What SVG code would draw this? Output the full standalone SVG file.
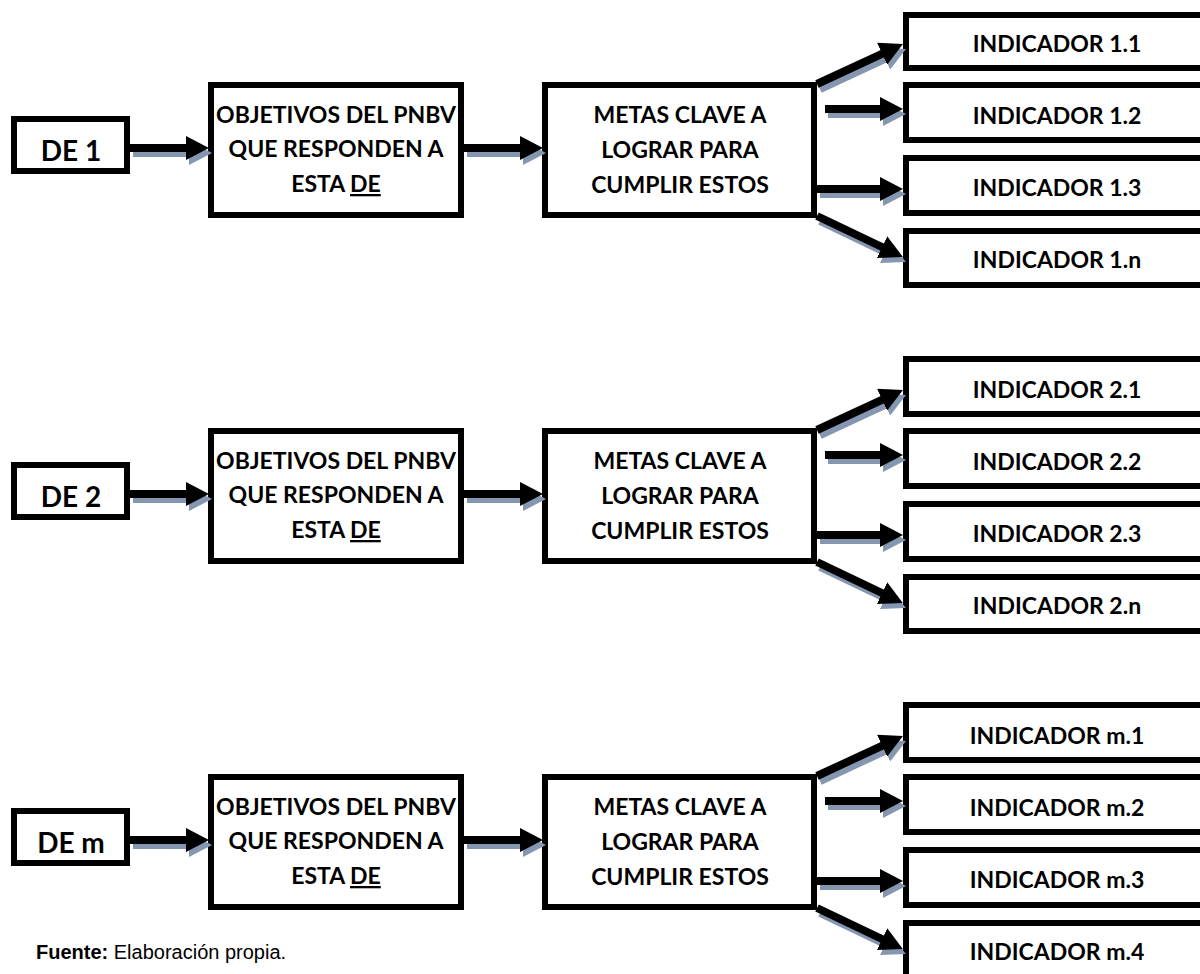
<svg xmlns="http://www.w3.org/2000/svg" xmlns:xlink="http://www.w3.org/1999/xlink" width="1200" height="974" viewBox="0 0 1200 974">
<style>
.box{fill:#fff;stroke:#000;stroke-width:6}
.t{font-family:Lato,"Liberation Sans",sans-serif;font-weight:700;font-size:23px;text-anchor:middle;fill:#000}
.de{font-size:28px}
.sh{stroke:#8496B0;stroke-width:8;fill:none;marker-end:url(#hg)}
.ar{stroke:#000;stroke-width:8;fill:none;marker-end:url(#hb)}
.src{font-family:"Liberation Sans",Arial,sans-serif;font-size:20px;fill:#000}
</style>
<defs>
<marker id="hb" markerUnits="userSpaceOnUse" markerWidth="23" markerHeight="24" viewBox="0 0 23 24" refX="1" refY="12" orient="auto"><path d="M0,0 L23,12 L0,24 z" fill="#000"/></marker>
<marker id="hg" markerUnits="userSpaceOnUse" markerWidth="23" markerHeight="24" viewBox="0 0 23 24" refX="1" refY="12" orient="auto"><path d="M0,0 L23,12 L0,24 z" fill="#8496B0"/></marker>
<g id="setShadow" class="sh">
<line x1="130" y1="148" x2="187" y2="148"/>
<line x1="464" y1="148" x2="521" y2="148"/>
<line x1="817" y1="84" x2="883" y2="53.3"/>
<line x1="825" y1="109" x2="881" y2="109"/>
<line x1="817" y1="189" x2="881" y2="189"/>
<line x1="817" y1="216" x2="883" y2="247.5"/>
</g>
<g id="setBlack" class="ar">
<line x1="130" y1="148" x2="187" y2="148"/>
<line x1="464" y1="148" x2="521" y2="148"/>
<line x1="817" y1="84" x2="883" y2="53.3"/>
<line x1="825" y1="109" x2="881" y2="109"/>
<line x1="817" y1="189" x2="881" y2="189"/>
<line x1="817" y1="216" x2="883" y2="247.5"/>
</g>
</defs>
<rect width="1200" height="974" fill="#fff"/>

<!-- Group 1 -->
<g id="de1"><rect class="box" x="14" y="119" width="113" height="52"/><text class="t de" x="71" y="161">DE 1</text></g>
<g id="obj1"><rect class="box" x="211" y="85" width="250" height="130"/><text class="t" x="336" y="123">OBJETIVOS DEL PNBV</text><text class="t" x="336" y="157">QUE RESPONDEN A</text><text class="t" x="336" y="192">ESTA <tspan text-decoration="underline">DE</tspan></text></g>
<g id="meta1"><rect class="box" x="545" y="85" width="269" height="130"/><text class="t" x="680" y="123">METAS CLAVE A</text><text class="t" x="680" y="158">LOGRAR PARA</text><text class="t" x="680" y="193">CUMPLIR ESTOS</text></g>
<g id="ind1-1"><rect class="box" x="906" y="15" width="310" height="53"/><text class="t" x="1057" y="52">INDICADOR 1.1</text></g>
<g id="ind1-2"><rect class="box" x="906" y="85" width="310" height="55"/><text class="t" x="1057" y="124">INDICADOR 1.2</text></g>
<g id="ind1-3"><rect class="box" x="906" y="158" width="310" height="55"/><text class="t" x="1057" y="196">INDICADOR 1.3</text></g>
<g id="ind1-n"><rect class="box" x="906" y="231" width="310" height="54"/><text class="t" x="1057" y="268">INDICADOR 1.n</text></g>

<!-- Group 2 -->
<g id="de2" transform="translate(0,346)"><rect class="box" x="14" y="119" width="113" height="52"/><text class="t de" x="71" y="161">DE 2</text></g>
<g id="obj2" transform="translate(0,346)"><rect class="box" x="211" y="85" width="250" height="130"/><text class="t" x="336" y="123">OBJETIVOS DEL PNBV</text><text class="t" x="336" y="157">QUE RESPONDEN A</text><text class="t" x="336" y="192">ESTA <tspan text-decoration="underline">DE</tspan></text></g>
<g id="meta2" transform="translate(0,346)"><rect class="box" x="545" y="85" width="269" height="130"/><text class="t" x="680" y="123">METAS CLAVE A</text><text class="t" x="680" y="158">LOGRAR PARA</text><text class="t" x="680" y="193">CUMPLIR ESTOS</text></g>
<g id="ind2-1" transform="translate(0,346)"><rect class="box" x="906" y="13" width="310" height="55"/><text class="t" x="1057" y="52">INDICADOR 2.1</text></g>
<g id="ind2-2" transform="translate(0,346)"><rect class="box" x="906" y="85" width="310" height="55"/><text class="t" x="1057" y="124">INDICADOR 2.2</text></g>
<g id="ind2-3" transform="translate(0,346)"><rect class="box" x="906" y="158" width="310" height="55"/><text class="t" x="1057" y="196">INDICADOR 2.3</text></g>
<g id="ind2-n" transform="translate(0,346)"><rect class="box" x="906" y="231" width="310" height="54"/><text class="t" x="1057" y="268">INDICADOR 2.n</text></g>

<!-- Group m -->
<g id="dem" transform="translate(0,692)"><rect class="box" x="14" y="119" width="113" height="52"/><text class="t de" x="71" y="161">DE m</text></g>
<g id="objm" transform="translate(0,692)"><rect class="box" x="211" y="85" width="250" height="130"/><text class="t" x="336" y="123">OBJETIVOS DEL PNBV</text><text class="t" x="336" y="157">QUE RESPONDEN A</text><text class="t" x="336" y="192">ESTA <tspan text-decoration="underline">DE</tspan></text></g>
<g id="metam" transform="translate(0,692)"><rect class="box" x="545" y="85" width="269" height="130"/><text class="t" x="680" y="123">METAS CLAVE A</text><text class="t" x="680" y="158">LOGRAR PARA</text><text class="t" x="680" y="193">CUMPLIR ESTOS</text></g>
<g id="indm-1" transform="translate(0,692)"><rect class="box" x="906" y="13" width="310" height="55"/><text class="t" x="1057" y="52">INDICADOR m.1</text></g>
<g id="indm-2" transform="translate(0,692)"><rect class="box" x="906" y="85" width="310" height="55"/><text class="t" x="1057" y="124">INDICADOR m.2</text></g>
<g id="indm-3" transform="translate(0,692)"><rect class="box" x="906" y="158" width="310" height="55"/><text class="t" x="1057" y="196">INDICADOR m.3</text></g>
<g id="indm-4" transform="translate(0,692)"><rect class="box" x="906" y="231" width="310" height="54"/><text class="t" x="1057" y="268">INDICADOR m.4</text></g>

<g id="connectors">
<use xlink:href="#setShadow" transform="translate(3,5)"/>
<use xlink:href="#setShadow" transform="translate(3,351)"/>
<use xlink:href="#setShadow" transform="translate(3,697)"/>
<use xlink:href="#setBlack"/>
<use xlink:href="#setBlack" transform="translate(0,346)"/>
<use xlink:href="#setBlack" transform="translate(0,692)"/>
</g>

<g id="source"><text class="src" x="36" y="959"><tspan font-weight="700">Fuente:</tspan> Elaboración propia.</text></g>
</svg>
